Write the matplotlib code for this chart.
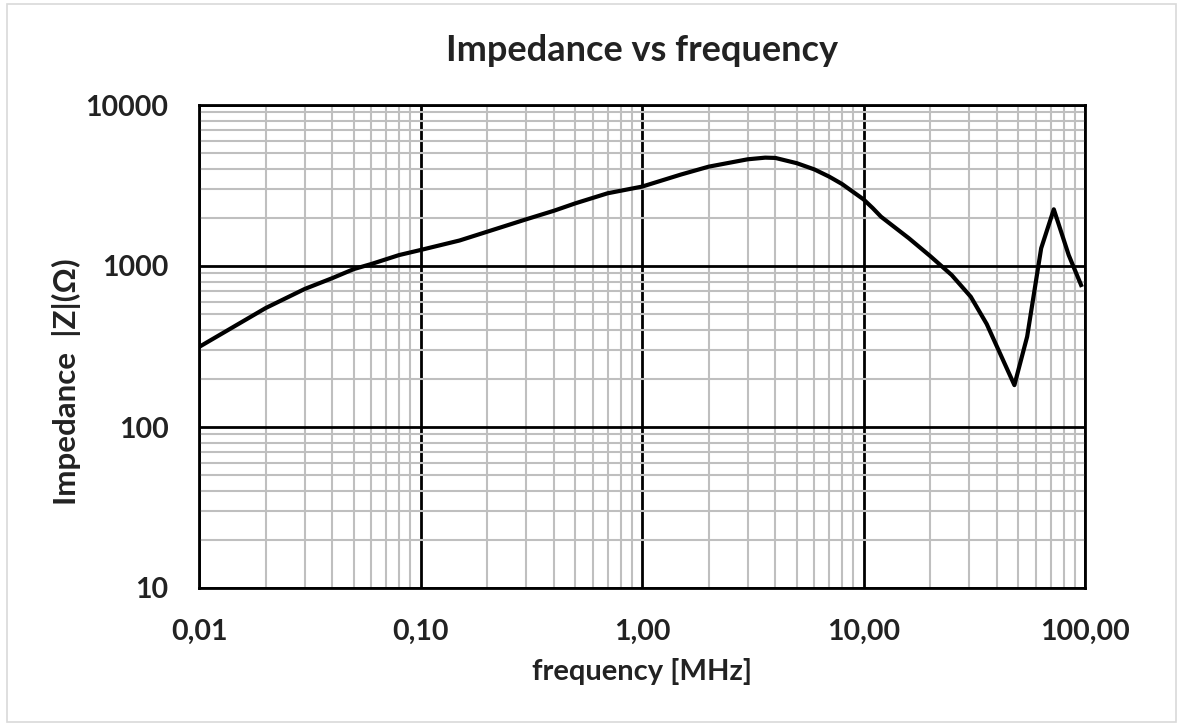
import numpy as np
import matplotlib.pyplot as plt
from matplotlib.ticker import FixedLocator, LogLocator, NullFormatter
from matplotlib.patches import Rectangle

# frequency in MHz, impedance in ohm
freq = [0.01, 0.02, 0.03, 0.04, 0.05, 0.06, 0.08, 0.1, 0.15, 0.2, 0.3, 0.4, 0.5, 0.7,
        1.0, 1.5, 2.0, 3.0, 3.6, 4.0, 5.0, 6.0, 7.0, 8.0, 10.0, 11.0, 12.0, 16.0, 20.0,
        25.0, 30.5, 36.0, 48.0, 54.8, 63.4, 72.3, 84.4, 96.0]
imp = [314, 548, 720, 841, 957, 1029, 1169, 1257, 1440, 1633, 1950, 2203, 2450, 2830,
       3112, 3700, 4140, 4600, 4710, 4690, 4350, 3980, 3590, 3230, 2594, 2290, 2023, 1490, 1153,
       879, 644, 436, 182, 364, 1288, 2250, 1170, 762]

x_ticks = [0.01, 0.1, 1, 10, 100]
x_labels = ["0,01", "0,10", "1,00", "10,00", "100,00"]
y_ticks = [10, 100, 1000, 10000]
y_labels = ["10", "100", "1000", "10000"]

txt = "#222222"
plt.rcParams['font.family'] = ['Lato', 'DejaVu Sans']

fig = plt.figure(figsize=(11.83, 7.26), dpi=100)
fig.patches.append(Rectangle((0.006, 0.006), 0.988, 0.988, transform=fig.transFigure,
                             fill=False, edgecolor="#d9d9d9", linewidth=1.2))
ax = fig.add_axes([199/1183, 1 - 588/726, (1085-199)/1183, (588-105)/726])

ax.plot(freq, imp, color="black", linewidth=3, zorder=3)
ax.set_xscale("log")
ax.set_yscale("log")
ax.set_xlim(0.01, 100)
ax.set_ylim(10, 10000)

ax.xaxis.set_major_locator(FixedLocator(x_ticks))
ax.yaxis.set_major_locator(FixedLocator(y_ticks))
ax.set_xticklabels(x_labels)
ax.set_yticklabels(y_labels)
ax.xaxis.set_minor_locator(LogLocator(base=10, subs=np.arange(2, 10), numticks=20))
ax.yaxis.set_minor_locator(LogLocator(base=10, subs=np.arange(2, 10), numticks=20))
ax.xaxis.set_minor_formatter(NullFormatter())
ax.yaxis.set_minor_formatter(NullFormatter())

ax.grid(True, which="minor", color="#bfbfbf", linewidth=1.5, zorder=1)
ax.grid(True, which="major", color="black", linewidth=2, zorder=2)
ax.set_axisbelow(True)

ax.tick_params(which="both", length=0)
ax.tick_params(axis="x", pad=22, labelsize=20.5, labelcolor=txt)
ax.tick_params(axis="y", pad=22, labelsize=20.5, labelcolor=txt)
for lab in ax.get_xticklabels() + ax.get_yticklabels():
    lab.set_fontweight("bold")

for s in ax.spines.values():
    s.set_color("black")
    s.set_linewidth(2)

ax.set_title("Impedance vs frequency", fontsize=26, fontweight="bold", color=txt, pad=32)
ax.set_xlabel("frequency [MHz]", fontsize=21, fontweight="bold", color=txt, labelpad=10)
ax.set_ylabel("Impedance  |Z|(Ω)", fontsize=22.5, fontweight="bold", color=txt)
ax.yaxis.set_label_coords(-0.133, 0.427)

fig.savefig("out.png", dpi=100)
